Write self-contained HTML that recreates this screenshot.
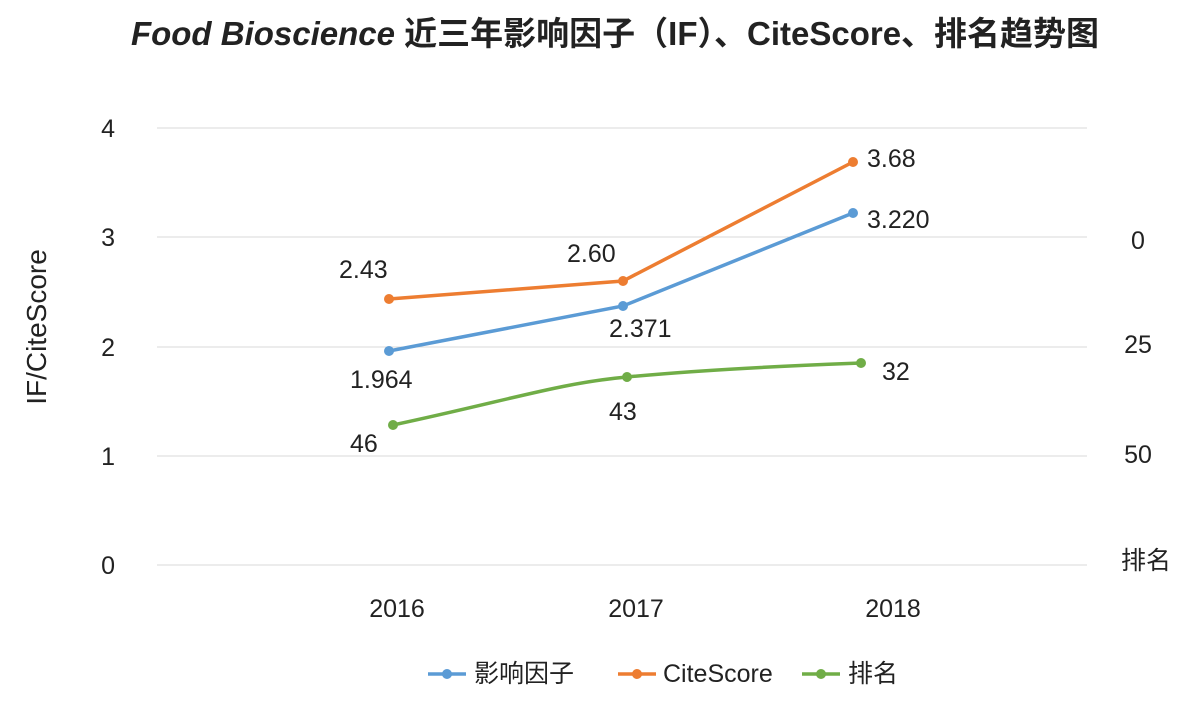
<!DOCTYPE html>
<html><head><meta charset="utf-8"><style>
body{margin:0;background:#fff}
svg{display:block;font-family:"Liberation Sans","Noto Sans CJK SC",sans-serif}
</style></head><body>
<svg width="1186" height="705" viewBox="0 0 1186 705" xmlns="http://www.w3.org/2000/svg">
<rect width="1186" height="705" fill="#fff"/>
<text x="615" y="45" text-anchor="middle" font-size="33" font-weight="bold" fill="#222"><tspan font-style="italic">Food Bioscience</tspan> 近三年影响因子（IF）、CiteScore、排名趋势图</text>
<g stroke="#d9d9d9" stroke-width="1">
<line x1="157" y1="128" x2="1087" y2="128"/>
<line x1="157" y1="237" x2="1087" y2="237"/>
<line x1="157" y1="347" x2="1087" y2="347"/>
<line x1="157" y1="456" x2="1087" y2="456"/>
<line x1="157" y1="565" x2="1087" y2="565"/>
</g>
<g font-size="25" fill="#222" text-anchor="end">
<text x="115" y="137">4</text><text x="115" y="246">3</text><text x="115" y="356">2</text><text x="115" y="465">1</text><text x="115" y="574">0</text>
</g>
<g font-size="25" fill="#222" text-anchor="middle">
<text x="1138" y="249">0</text><text x="1138" y="353">25</text><text x="1138" y="463">50</text><text x="1146" y="569">排名</text>
<text x="397" y="617">2016</text><text x="636" y="617">2017</text><text x="893" y="617">2018</text>
</g>
<text transform="translate(46,327) rotate(-90)" font-size="28" fill="#222" text-anchor="middle">IF/CiteScore</text>
<g stroke-width="3.5" fill="none">
<polyline points="389,351 623,306 853,213" stroke="#5b9bd5"/>
<polyline points="389,299 623,281 853,162" stroke="#ed7d31"/>
<path d="M393,425 C510,400 560,383 627,377 C700,370 780,366 861,363" stroke="#70ad47"/>
</g>
<g fill="#5b9bd5"><circle cx="389" cy="351" r="5"/><circle cx="623" cy="306" r="5"/><circle cx="853" cy="213" r="5"/></g>
<g fill="#ed7d31"><circle cx="389" cy="299" r="5"/><circle cx="623" cy="281" r="5"/><circle cx="853" cy="162" r="5"/></g>
<g fill="#70ad47"><circle cx="393" cy="425" r="5"/><circle cx="627" cy="377" r="5"/><circle cx="861" cy="363" r="5"/></g>
<g font-size="25" fill="#222">
<text x="339" y="278">2.43</text><text x="567" y="262">2.60</text><text x="867" y="167">3.68</text>
<text x="350" y="388">1.964</text><text x="609" y="337">2.371</text><text x="867" y="228">3.220</text>
<text x="350" y="452">46</text><text x="609" y="420">43</text><text x="882" y="380">32</text>
</g>
<g stroke-width="3.5">
<line x1="428" y1="674" x2="466" y2="674" stroke="#5b9bd5"/><circle cx="447" cy="674" r="5" fill="#5b9bd5"/>
<line x1="618" y1="674" x2="656" y2="674" stroke="#ed7d31"/><circle cx="637" cy="674" r="5" fill="#ed7d31"/>
<line x1="802" y1="674" x2="840" y2="674" stroke="#70ad47"/><circle cx="821" cy="674" r="5" fill="#70ad47"/>
</g>
<g font-size="25" fill="#222">
<text x="474" y="682">影响因子</text><text x="663" y="682">CiteScore</text><text x="848" y="682">排名</text>
</g>
</svg>
</body></html>
